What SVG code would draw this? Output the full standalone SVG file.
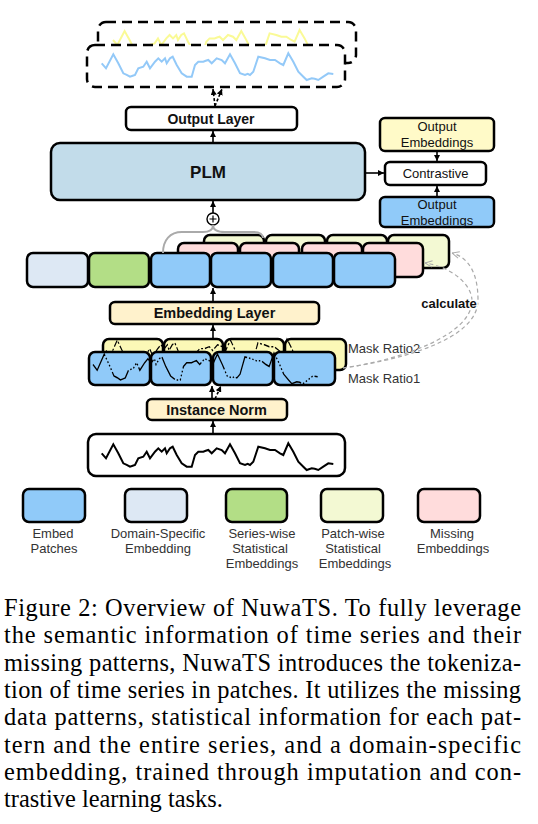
<svg xmlns="http://www.w3.org/2000/svg" width="538" height="824" viewBox="0 0 538 824">
<style>
.box{stroke:#000;stroke-width:2.5}
.lbl{font-family:"Liberation Sans",Arial,sans-serif;fill:#111;text-anchor:middle}
.b{font-weight:bold}
.leg{font-family:"Liberation Sans",Arial,sans-serif;font-size:13px;fill:#333;text-anchor:middle}
.cap{font-family:"Liberation Serif","Times New Roman",Times,serif;font-size:24.4px;fill:#000}
.blue{fill:#90caf9}.dom{fill:#dde8f4}.grn{fill:#b3de86}.pnk{fill:#ffdcdc}.pat{fill:#f3f9d3}.ym{fill:#fbf8b7}
.arr{stroke:#000;stroke-width:1.6;fill:none}
</style>
<defs>
<marker id="ah" viewBox="0 0 10 10" refX="10" refY="5" markerWidth="6" markerHeight="6" markerUnits="userSpaceOnUse" orient="auto"><path d="M0,0 L10,5 L0,10 z" fill="#000"/></marker>
<marker id="ag" viewBox="0 0 10 10" refX="10" refY="5" markerWidth="8" markerHeight="8" markerUnits="userSpaceOnUse" orient="auto"><path d="M1,1 L10,5 L1,9" fill="none" stroke="#aaa" stroke-width="1.2"/></marker>
<path id="ts" d="M0,10 L4.3,15 L11.6,1 L16.6,10 L21.6,20 L25,21.5 L28.3,23.4 L31,22.5 L33.3,21.7 L36.6,15 L41.6,13.4 L45,8.4 L48.3,15 L53.3,8.4 L56.6,5 L60,8.4 L63.3,5 L65,10 L68.3,5 L71,3.4 L75,11.7 L80,20 L85,23.4 L90,23.4 L93.3,11.7 L96.6,8.4 L101.6,8.4 L104,7.5 L106.6,6.7 L110,10 L115,5 L120,6.7 L123.3,10 L128.3,1 L133.3,10 L138.3,20 L143.3,21.7 L146,20.5 L148.3,21.7 L151.6,18.4 L156.6,3.4 L163.3,5 L168.3,6.7 L173.3,6.7 L178.3,10 L181.6,11.7 L186.6,0 L191.6,8.4 L196.6,18.4 L201.6,23.4 L205,26.7 L210,25 L213,25.5 L216.6,26.7 L221.6,23.4 L226.6,20 L231.6,20.7"/>
</defs>

<g id="output-series">
<rect x="98" y="22" width="258" height="41" rx="8" fill="#fff" stroke="#000" stroke-width="2.5" stroke-dasharray="10 6"/>
<use href="#ts" transform="translate(113,30)" fill="none" stroke="#fafa96" stroke-width="2"/>
<rect x="87" y="45" width="258" height="42" rx="8" fill="#fff" stroke="#000" stroke-width="2.5" stroke-dasharray="10 6"/>
<use href="#ts" transform="translate(101.7,53.3)" fill="none" stroke="#93c9f8" stroke-width="2"/>
</g>

<g id="output-layer">
<rect class="box" x="126" y="107" width="171" height="23" rx="5" fill="#fff"/>
<text class="lbl b" x="211" y="124" font-size="14">Output Layer</text>
</g>

<g id="plm">
<rect class="box" x="51" y="143" width="314" height="57" rx="9" fill="#c2dcea"/>
<text class="lbl b" x="208" y="178" font-size="17">PLM</text>
</g>

<g id="output-emb-yellow">
<rect class="box" x="380" y="118" width="114" height="33" rx="5" fill="#fffac8"/>
<text class="lbl" x="437" y="130.5" font-size="13">Output</text>
<text class="lbl" x="437" y="146.5" font-size="13">Embeddings</text>
</g>

<g id="contrastive">
<rect class="box" x="385" y="162" width="101" height="23" rx="5" fill="#fff"/>
<text class="lbl" x="435.5" y="178" font-size="13">Contrastive</text>
</g>

<g id="output-emb-blue">
<rect class="box" x="380" y="197" width="114" height="30" rx="5" fill="#90caf9"/>
<text class="lbl" x="437" y="208.5" font-size="13">Output</text>
<text class="lbl" x="437" y="224.5" font-size="13">Embeddings</text>
</g>

<g id="plus">
<circle cx="213" cy="219" r="6" fill="#fff" stroke="#000" stroke-width="1.4"/>
<path d="M209.5,219 H216.5 M213,215.5 V222.5" stroke="#000" stroke-width="1.2"/>
</g>

<g id="patchwise-stats">
<rect class="box pat" x="204" y="235" width="60" height="33" rx="6"/>
<rect class="box pat" x="266" y="235" width="59" height="33" rx="6"/>
<rect class="box pat" x="327" y="235" width="60" height="33" rx="6"/>
<rect class="box pat" x="388" y="235" width="61" height="33" rx="6"/>
</g>
<g id="missing-emb">
<rect class="box pnk" x="178" y="243" width="60" height="34" rx="6"/>
<rect class="box pnk" x="240" y="243" width="59" height="34" rx="6"/>
<rect class="box pnk" x="302" y="243" width="60" height="34" rx="6"/>
<rect class="box pnk" x="363" y="243" width="60" height="34" rx="6"/>
</g>
<g id="token-row">
<rect class="box dom" x="27" y="253" width="61" height="34" rx="6"/>
<rect class="box grn" x="89" y="253" width="60" height="34" rx="6"/>
<rect class="box blue" x="151" y="253" width="59" height="34" rx="6"/>
<rect class="box blue" x="211" y="253" width="60" height="34" rx="6"/>
<rect class="box blue" x="273" y="253" width="60" height="34" rx="6"/>
<rect class="box blue" x="334" y="253" width="61" height="34" rx="6"/>
</g>

<g id="embedding-layer">
<rect class="box" x="110" y="302" width="209" height="22" rx="5" fill="#fff2cc"/>
<text class="lbl b" x="214.5" y="318" font-size="14.5">Embedding Layer</text>
</g>

<g id="mask-ratio2">
<rect class="box ym" x="103" y="339" width="60" height="31" rx="6"/>
<rect class="box ym" x="164" y="339" width="59" height="31" rx="6"/>
<rect class="box ym" x="225" y="339" width="59" height="31" rx="6"/>
<rect class="box ym" x="285" y="339" width="61" height="31" rx="6"/>
<use href="#ts" transform="translate(106,339) scale(0.97,1.15)" fill="none" stroke="#000" stroke-width="1.2" stroke-dasharray="2 2 6 2"/>
<text x="348" y="352.5" font-family="Liberation Sans, Arial, sans-serif" font-size="13" fill="#333">Mask Ratio2</text>
</g>
<g id="mask-ratio1">
<rect class="box blue" x="89" y="352" width="61" height="33" rx="6"/>
<rect class="box blue" x="151" y="352" width="60" height="33" rx="6"/>
<rect class="box blue" x="213" y="352" width="60" height="33" rx="6"/>
<rect class="box blue" x="274" y="352" width="61" height="33" rx="6"/>
<use href="#ts" transform="translate(93,353) scale(0.97,1.15)" fill="none" stroke="#000" stroke-width="1.3" stroke-dasharray="24 2 1.5 2 1.5 2 1.5 2 1.5 2"/>
<text x="348" y="382.5" font-family="Liberation Sans, Arial, sans-serif" font-size="13" fill="#333">Mask Ratio1</text>
</g>

<g id="instance-norm">
<rect class="box" x="147" y="399" width="140" height="21" rx="5" fill="#fff2cc"/>
<text class="lbl b" x="216.5" y="414.5" font-size="14.5">Instance Norm</text>
</g>

<g id="input-series">
<rect class="box" x="88" y="434" width="257" height="42" rx="8" fill="#fff"/>
<use href="#ts" transform="translate(101.7,443.3)" fill="none" stroke="#000" stroke-width="2"/>
</g>

<g id="connectors">
<path class="arr" d="M213,143 V131" marker-end="url(#ah)"/>
<path class="arr" d="M213,213 V201" marker-end="url(#ah)"/>
<path class="arr" d="M213,302 V288" marker-end="url(#ah)"/>
<path class="arr" d="M213,339 V325" marker-end="url(#ah)"/>
<path class="arr" d="M212,399 V386" marker-end="url(#ah)"/>
<path class="arr" d="M215,399 L221,386" stroke-dasharray="3 2" marker-end="url(#ah)"/>
<path class="arr" d="M213,434 V421" marker-end="url(#ah)"/>
<path class="arr" d="M215,106 L213,89" stroke-dasharray="3 2" marker-end="url(#ah)"/>
<path class="arr" d="M215,106 L222,89" stroke-dasharray="3 2" marker-end="url(#ah)"/>
<path class="arr" d="M365,173 H384" marker-end="url(#ah)"/>
<path class="arr" d="M437,151 V161" marker-end="url(#ah)"/>
<path class="arr" d="M437,197 V186" marker-end="url(#ah)"/>
<path d="M163,253 C163,240 170,232 182,232 L203,232 C209,232 213,230 213,225 C213,230 218,232 225,232 L254,232 C260,232 263,235 263,238" fill="none" stroke="#aaa" stroke-width="2"/>
<path d="M343,368 C400,360 478,340 478,300 C478,275 470,258 452,253" fill="none" stroke="#aaa" stroke-width="1.2" stroke-dasharray="4 3" marker-end="url(#ag)"/>
<path d="M343,368 C400,360 473,335 472,300 C471,282 448,266 425,263" fill="none" stroke="#aaa" stroke-width="1.2" stroke-dasharray="4 3" marker-end="url(#ag)"/>
<text x="449" y="307.5" font-family="Liberation Sans, Arial, sans-serif" font-size="13" font-weight="bold" fill="#111" text-anchor="middle" stroke="#fff" stroke-width="3" paint-order="stroke">calculate</text>
</g>

<g id="legend-embed-patches">
<rect class="box blue" x="23" y="489" width="62" height="33" rx="6"/>
<text class="leg" x="53" y="537.5">Embed</text>
<text class="leg" x="54" y="553">Patches</text>
</g>
<g id="legend-domain">
<rect class="box dom" x="125" y="489" width="62" height="33" rx="6"/>
<text class="leg" x="158" y="537.5">Domain-Specific</text>
<text class="leg" x="158" y="553">Embedding</text>
</g>
<g id="legend-series-wise">
<rect class="box grn" x="226" y="489" width="61" height="33" rx="6"/>
<text class="leg" x="262" y="537.5">Series-wise</text>
<text class="leg" x="260" y="553">Statistical</text>
<text class="leg" x="262" y="568">Embeddings</text>
</g>
<g id="legend-patch-wise">
<rect class="box pat" x="321" y="489" width="62" height="33" rx="6"/>
<text class="leg" x="353" y="537.5">Patch-wise</text>
<text class="leg" x="353" y="553">Statistical</text>
<text class="leg" x="355" y="568">Embeddings</text>
</g>
<g id="legend-missing">
<rect class="box pnk" x="418" y="489" width="62" height="33" rx="6"/>
<text class="leg" x="452" y="537.5">Missing</text>
<text class="leg" x="453" y="553">Embeddings</text>
</g>

<g id="caption">
<text class="cap" x="4" y="616" textLength="517" lengthAdjust="spacing">Figure 2: Overview of NuwaTS. To fully leverage</text>
<text class="cap" x="4" y="643.3" textLength="517" lengthAdjust="spacing">the semantic information of time series and their</text>
<text class="cap" x="4" y="670.6" textLength="517" lengthAdjust="spacing">missing patterns, NuwaTS introduces the tokeniza-</text>
<text class="cap" x="4" y="697.9" textLength="517" lengthAdjust="spacing">tion of time series in patches. It utilizes the missing</text>
<text class="cap" x="4" y="725.2" textLength="517" lengthAdjust="spacing">data patterns, statistical information for each pat-</text>
<text class="cap" x="4" y="752.5" textLength="517" lengthAdjust="spacing">tern and the entire series, and a domain-specific</text>
<text class="cap" x="4" y="779.8" textLength="517" lengthAdjust="spacing">embedding, trained through imputation and con-</text>
<text class="cap" x="4" y="807.1">trastive learning tasks.</text>
</g>
</svg>
